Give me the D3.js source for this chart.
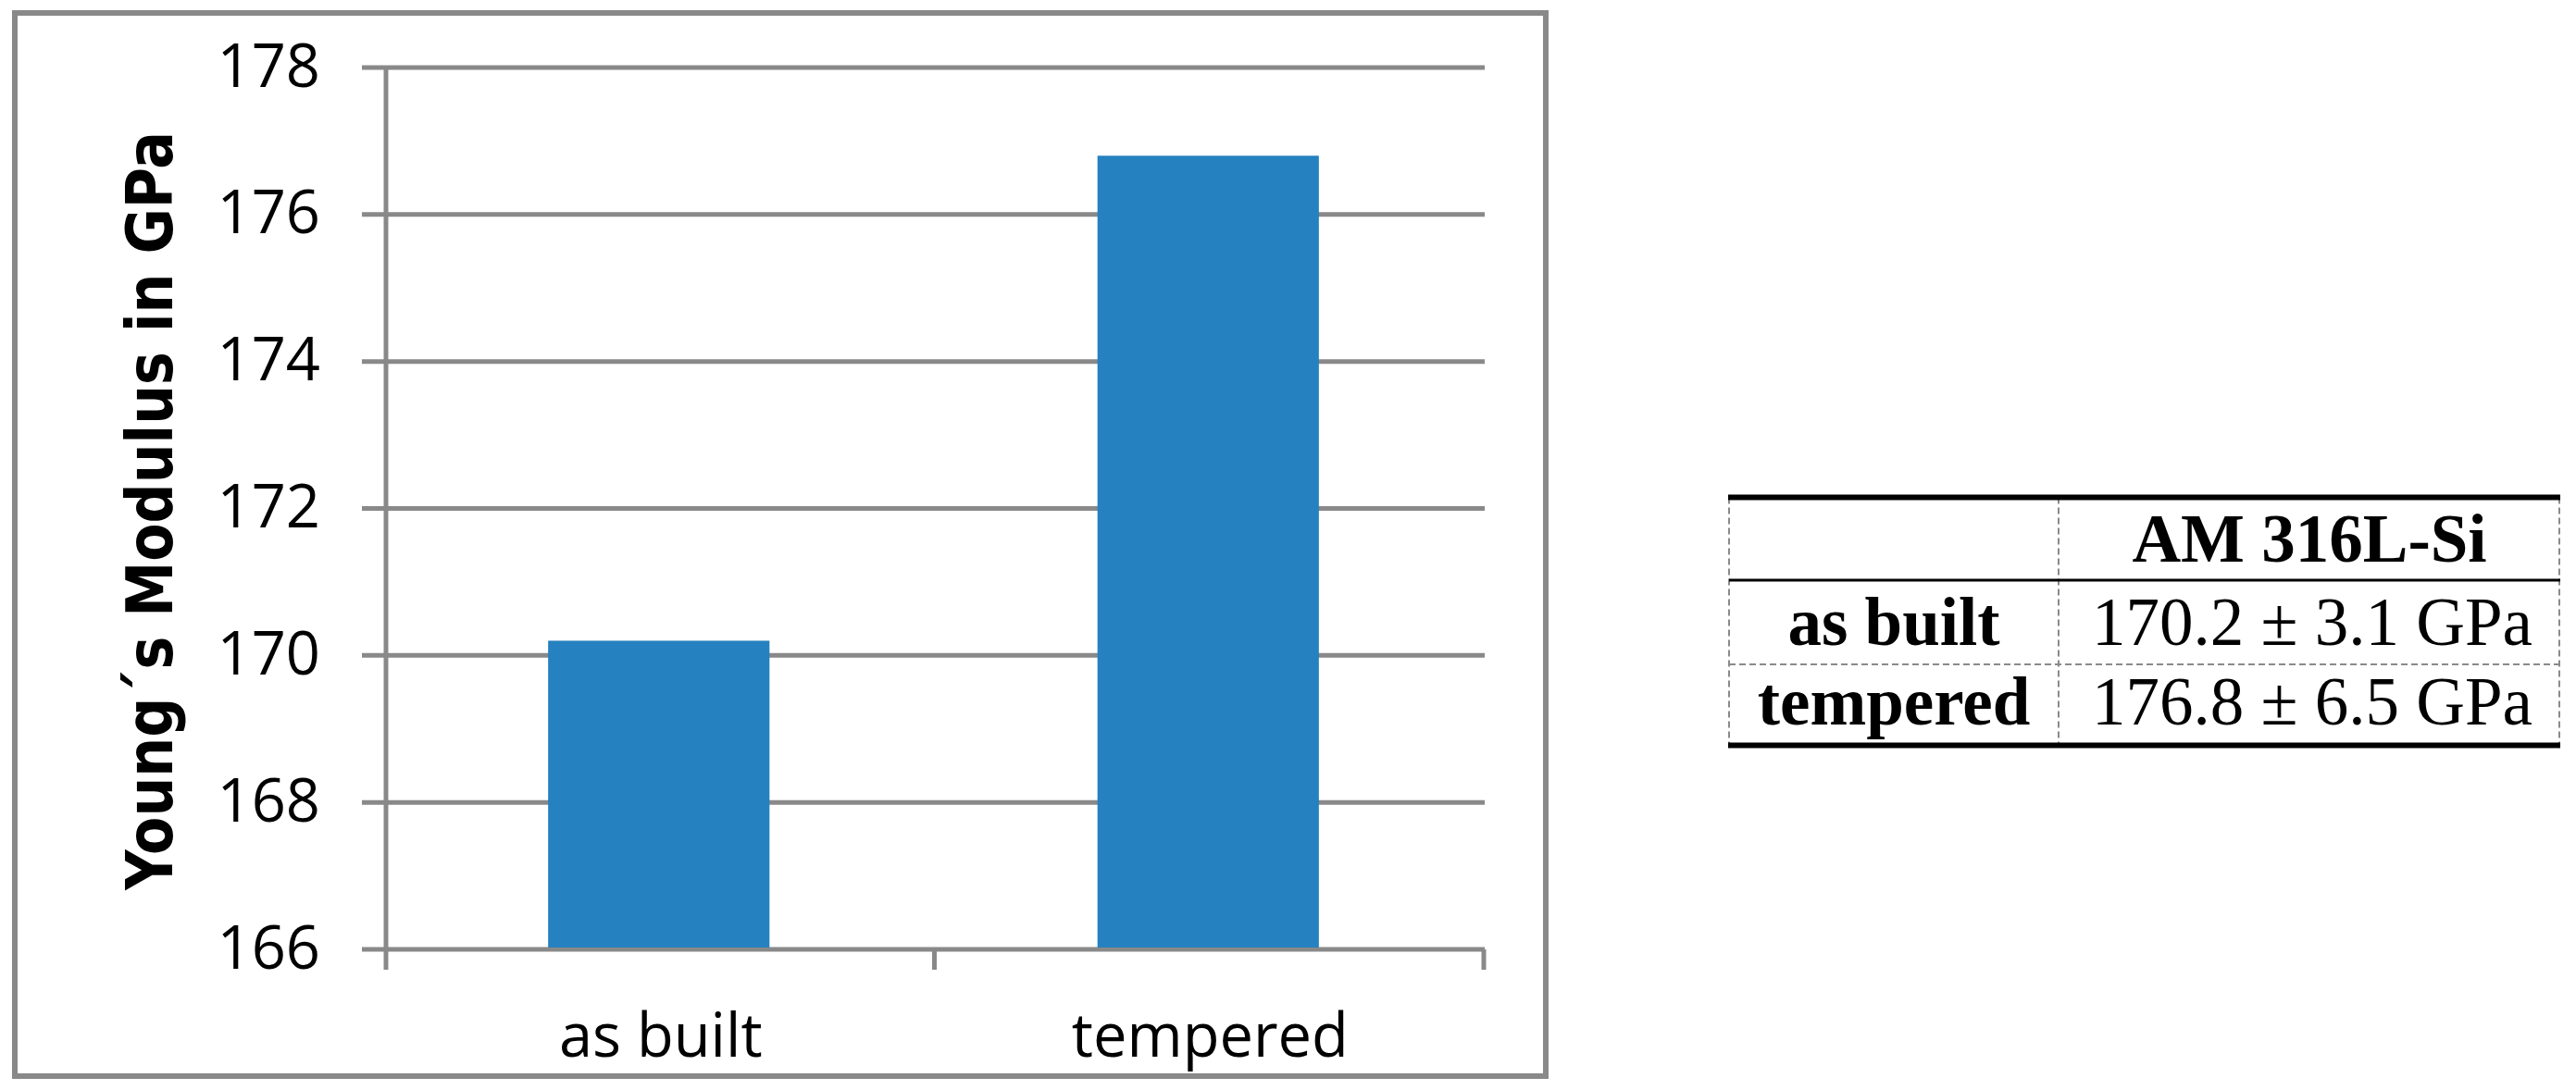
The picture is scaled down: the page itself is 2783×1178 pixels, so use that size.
<!DOCTYPE html>
<meta charset="utf-8">
<title>Young's Modulus AM 316L-Si</title>
<script src="https://d3js.org/d3.v7.min.js"></script>
<style>
  body {
    margin: 0;
    background-color: #fff;
  }

  .tick-label {
    font-family: "Open Sans", sans-serif;
    font-size: 65px;
    fill: #000;
  }

  .y-title {
    font-family: "DejaVu Sans", sans-serif;
    font-weight: bold;
    font-size: 69px;
    fill: #000;
  }

  .tbl {
    font-family: "Liberation Serif", "Times New Roman", serif;
    font-size: 73px;
    fill: #000;
  }
</style>
<body>
  <svg width="2783" height="1178"></svg>
</body>
<script>

  // chart data
  var categories = ["as built", "tempered"];
  var modulus = [170.2, 176.8];
  var modulusSd = [3.1, 6.5];
  var yTicks = [166, 168, 170, 172, 174, 176, 178];
  var yTitle = "Young\u00B4s Modulus in GPa";
  var tableTitle = "AM 316L-Si";

  var svg = d3.select("svg");
  var grey = "#898989";

  // outer frame of the chart
  svg.append("rect")
    .attr("x", 16).attr("y", 14)
    .attr("width", 1654).attr("height", 1149)
    .attr("fill", "none")
    .attr("stroke", grey)
    .attr("stroke-width", 6);

  var x0 = 417, x1 = 1604, tickStart = 391, tickLen = 22;

  var y = d3.scaleLinear()
    .domain([166, 178])
    .range([1026, 73]);

  var x = d3.scaleBand()
    .domain(categories)
    .range([x0, x1])
    .padding(0);

  var barW = x.bandwidth() * 0.403;

  // gridlines
  svg.append("g").selectAll("line")
    .data(yTicks)
    .enter().append("line")
    .attr("x1", tickStart).attr("x2", x1)
    .attr("y1", function (d) { return y(d); })
    .attr("y2", function (d) { return y(d); })
    .attr("stroke", grey)
    .attr("stroke-width", 5);

  // bars
  svg.append("g").selectAll("rect")
    .data(modulus)
    .enter().append("rect")
    .attr("x", function (d, i) { return x(categories[i]) + x.bandwidth() / 2 - barW / 2 - 2; })
    .attr("width", barW)
    .attr("y", function (d) { return y(d); })
    .attr("height", function (d) { return y(166) - y(d) - 2; })
    .attr("fill", "#2581bf");

  // y axis line
  svg.append("line")
    .attr("x1", x0).attr("x2", x0)
    .attr("y1", y(178) - 2).attr("y2", y(166) + tickLen)
    .attr("stroke", grey).attr("stroke-width", 5);

  // x axis ticks between categories
  var xTickPos = categories.map(function (c) { return x(c); }).concat([x1]);
  svg.append("g").selectAll("line")
    .data(xTickPos.slice(1))
    .enter().append("line")
    .attr("x1", function (d) { return d - 1; })
    .attr("x2", function (d) { return d - 1; })
    .attr("y1", y(166)).attr("y2", y(166) + tickLen)
    .attr("stroke", grey).attr("stroke-width", 5);

  // y tick labels
  var yAxis = svg.append("g")
    .attr("transform", "translate(" + x0 + ",0)")
    .call(d3.axisLeft(y).tickValues(yTicks).tickSize(0).tickPadding(71));
  yAxis.select(".domain").remove();
  yAxis.selectAll("text")
    .attr("class", "tick-label")
    .attr("font-size", null).attr("font-family", null)
    .attr("dy", 20);

  // x tick labels
  var xAxis = svg.append("g")
    .attr("transform", "translate(0," + y(166) + ")")
    .call(d3.axisBottom(x).tickSize(0));
  xAxis.select(".domain").remove();
  xAxis.selectAll("text")
    .attr("class", "tick-label")
    .attr("y", 116).attr("dy", null);

  // y title
  svg.append("text")
    .attr("class", "y-title")
    .attr("transform", "translate(186,552) rotate(-90)")
    .attr("text-anchor", "middle")
    .attr("textLength", 820)
    .attr("lengthAdjust", "spacingAndGlyphs")
    .text(yTitle);

  // table on the right
  var tl = 1868, tm = 2224, tr = 2766;
  var rowLines = [537.5, 627, 718, 805.5];
  var baselines = [607, 697, 783];
  var tbl = svg.append("g");

  // dashed verticals
  tbl.selectAll("line.v")
    .data([tl, tm, tr - 1])
    .enter().append("line")
    .attr("class", "v")
    .attr("x1", function (d) { return d; })
    .attr("x2", function (d) { return d; })
    .attr("y1", rowLines[0]).attr("y2", rowLines[3])
    .attr("stroke", "#8a8a8a").attr("stroke-width", 2)
    .attr("stroke-dasharray", "7,4");

  tbl.append("line")
    .attr("x1", tl).attr("x2", tr)
    .attr("y1", rowLines[2]).attr("y2", rowLines[2])
    .attr("stroke", "#8a8a8a").attr("stroke-width", 2)
    .attr("stroke-dasharray", "7,4");

  tbl.append("line")
    .attr("x1", tl).attr("x2", tr)
    .attr("y1", rowLines[1]).attr("y2", rowLines[1])
    .attr("stroke", "#000").attr("stroke-width", 3);

  tbl.selectAll("line.thick")
    .data([rowLines[0], rowLines[3]])
    .enter().append("line")
    .attr("class", "thick")
    .attr("x1", tl - 1).attr("x2", tr)
    .attr("y1", function (d) { return d; })
    .attr("y2", function (d) { return d; })
    .attr("stroke", "#000").attr("stroke-width", 6);

  tbl.append("text")
    .attr("class", "tbl")
    .attr("x", (tm + tr) / 2).attr("y", baselines[0])
    .attr("text-anchor", "middle")
    .attr("font-weight", "bold")
    .text(tableTitle);

  tbl.selectAll("text.rowname")
    .data(categories)
    .enter().append("text")
    .attr("class", "tbl rowname")
    .attr("x", (tl + tm) / 2)
    .attr("y", function (d, i) { return baselines[i + 1]; })
    .attr("text-anchor", "middle")
    .attr("font-weight", "bold")
    .text(function (d) { return d; });

  tbl.selectAll("text.val")
    .data(modulus)
    .enter().append("text")
    .attr("class", "tbl val")
    .attr("x", (tm + tr) / 2 + 3)
    .attr("y", function (d, i) { return baselines[i + 1]; })
    .attr("text-anchor", "middle")
    .text(function (d, i) { return d.toFixed(1) + " \u00B1 " + modulusSd[i].toFixed(1) + " GPa"; });

</script>
